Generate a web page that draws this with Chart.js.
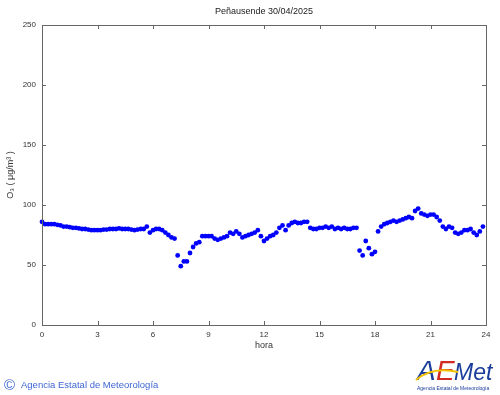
<!DOCTYPE html>
<html>
<head>
<meta charset="utf-8">
<script src="https://cdn.jsdelivr.net/npm/chart.js@4/dist/chart.umd.min.js"></script>
<style>
  html, body { margin: 0; padding: 0; background: #fff; }
  #wrap { width: 500px; height: 395px; }
</style>
</head>
<body>
<div id="wrap"><canvas id="o3Chart" width="500" height="395"></canvas></div>
<script>
// Station and day shown in the title
const station = 'Peñausende';
const day = '30/04/2025';

// One reading every 10 minutes, starting at 00:00
const stepMinutes = 10;

// O3 readings (µg/m3)
const o3 = [
    86, 84, 84, 84, 84, 83.5, 83, 82, 82, 81.5, 81, 81, 80.5, 80, 80, 79.5, 79, 79,
    79, 79, 79.5, 79.5, 80, 80, 80, 80.5, 80, 80, 80, 79.5, 79, 79.5, 80,
    80, 82, 77, 79, 80, 80, 79, 77, 75, 73, 72,
    58, 49, 53, 53, 60, 65, 68, 69, 74, 74, 74, 74, 72, 71, 72, 73, 74, 77, 76, 78, 76, 73, 74, 75, 76, 77, 79, 74,
    70, 72, 74, 75, 77, 81, 83, 79, 83, 85, 86, 85, 85, 86, 86,
    81, 80, 80, 81, 81, 82, 81, 82, 80, 81, 80, 81, 80, 80, 81, 81,
    62, 58, 70, 64, 59, 61,
    78, 82, 84, 85, 86, 87, 86, 87, 88, 89, 90, 89,
    95, 97, 93, 92, 91, 92, 92, 90, 87, 82, 80, 82, 81, 77, 76, 77, 79, 79, 80, 77, 75, 78, 82
];

// Axis ticks
const xTicks = [0, 3, 6, 9, 12, 15, 18, 21, 24];
const yTicks = [0, 50, 100, 150, 200, 250];

const FONT = "'Liberation Sans', Arial, Helvetica, sans-serif";

const points = o3.map((v, i) => ({ x: i * stepMinutes / 60, y: v }));

// Frame, inward tick marks, titles and footer
const decorations = {
    id: 'decorations',
    afterDraw(chart) {
        const { ctx, chartArea: a, scales } = chart;
        const xs = scales.x, ys = scales.y;
        ctx.save();

        // box around the plot
        ctx.strokeStyle = '#666';
        ctx.lineWidth = 1;
        ctx.strokeRect(Math.round(a.left) + 0.5, Math.round(a.top) + 0.5,
            Math.round(a.right - a.left), Math.round(a.bottom - a.top));

        // tick marks on all four sides, pointing inward
        ctx.beginPath();
        xTicks.forEach(v => {
            const px = Math.round(xs.getPixelForValue(v)) + 0.5;
            ctx.moveTo(px, a.bottom); ctx.lineTo(px, a.bottom - 4);
            ctx.moveTo(px, a.top); ctx.lineTo(px, a.top + 4);
        });
        yTicks.forEach(v => {
            const py = Math.round(ys.getPixelForValue(v)) + 0.5;
            ctx.moveTo(a.left, py); ctx.lineTo(a.left + 4, py);
            ctx.moveTo(a.right, py); ctx.lineTo(a.right - 4, py);
        });
        ctx.stroke();

        // title
        ctx.fillStyle = '#222';
        ctx.font = '9px ' + FONT;
        ctx.textAlign = 'center';
        ctx.textBaseline = 'middle';
        ctx.fillText(station + ' ' + day, (a.left + a.right) / 2, 12);

        // x axis title
        ctx.fillStyle = '#333';
        ctx.font = '9px ' + FONT;
        ctx.fillText('hora', (a.left + a.right) / 2, 346);

        // y axis title
        ctx.save();
        ctx.translate(11, (a.top + a.bottom) / 2);
        ctx.rotate(-Math.PI / 2);
        ctx.fillText('O₃ ( μg/m³ )', 0, 0);
        ctx.restore();

        // footer
        ctx.fillStyle = '#3f66d4';
        ctx.textAlign = 'left';
        ctx.textBaseline = 'alphabetic';
        ctx.font = '15px ' + FONT;
        ctx.fillText('©', 4, 390);
        ctx.font = '9.5px ' + FONT;
        ctx.fillText('Agencia Estatal de Meteorología', 21, 388);

        // AEMet logo
        ctx.font = 'italic 28px ' + FONT;
        ctx.fillStyle = '#1b3d9b';
        ctx.fillText('A', 417, 380);
        ctx.fillStyle = '#d22b24';
        ctx.fillText('E', 436, 380);
        ctx.fillStyle = '#1b3d9b';
        ctx.font = 'italic 23px ' + FONT;
        ctx.fillText('Met', 454, 380);
        ctx.strokeStyle = '#f2c200';
        ctx.lineWidth = 2;
        ctx.beginPath();
        ctx.moveTo(416, 380);
        ctx.quadraticCurveTo(432, 366, 458, 372);
        ctx.stroke();
        ctx.fillStyle = '#1b3d9b';
        ctx.font = '5px ' + FONT;
        ctx.fillText('Agencia Estatal de Meteorología', 417, 390);

        ctx.restore();
    }
};

new Chart(document.getElementById('o3Chart').getContext('2d'), {
    type: 'scatter',
    data: {
        datasets: [{
            label: 'O3',
            data: points,
            backgroundColor: '#0000ff',
            borderColor: '#0000ff',
            borderWidth: 0,
            pointRadius: 2.4,
            clip: false
        }]
    },
    options: {
        responsive: false,
        animation: false,
        layout: { padding: { top: 25, right: 14, left: 0, bottom: 0 } },
        plugins: {
            legend: { display: false },
            tooltip: { enabled: false },
            title: { display: false }
        },
        scales: {
            x: {
                type: 'linear',
                min: 0,
                max: 24,
                afterBuildTicks: s => { s.ticks = xTicks.map(v => ({ value: v })); },
                afterFit: s => { s.height = 70; },
                grid: { display: false, drawTicks: false },
                border: { display: false },
                ticks: { padding: 5, color: '#333', font: { family: FONT, size: 8 }, maxRotation: 0 }
            },
            y: {
                min: 0,
                max: 250,
                afterBuildTicks: s => { s.ticks = yTicks.map(v => ({ value: v })); },
                afterFit: s => { s.width = 42; },
                grid: { display: false, drawTicks: false },
                border: { display: false },
                ticks: { padding: 6, color: '#333', font: { family: FONT, size: 8 } }
            }
        }
    },
    plugins: [decorations]
});
</script>
</body>
</html>
